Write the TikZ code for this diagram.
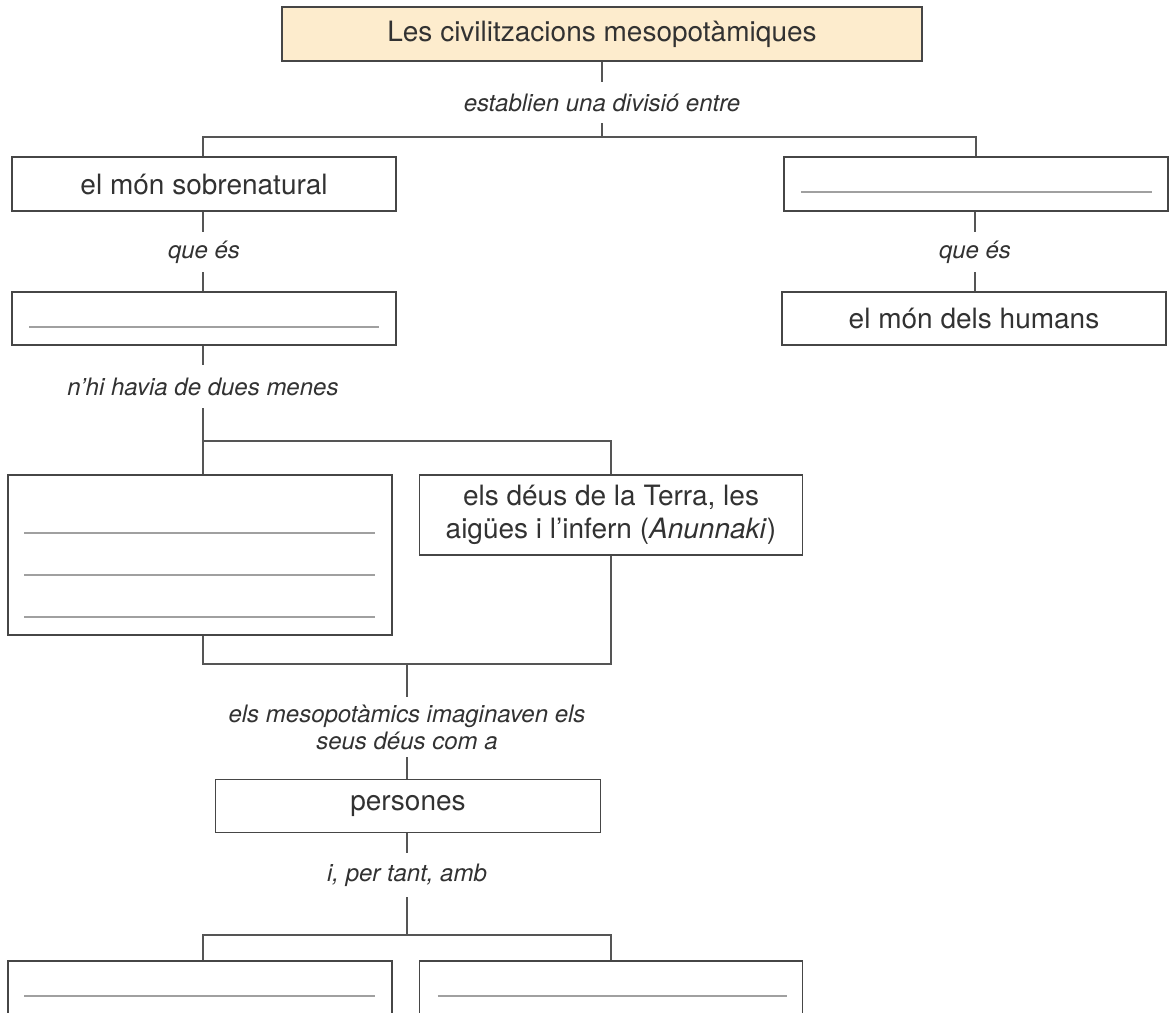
\documentclass[tikz,border=0pt]{standalone}
\usepackage{fontspec}
\setmainfont{TeX Gyre Heros}
\definecolor{titlefill}{RGB}{253,236,205}
\definecolor{boxline}{RGB}{70,70,70}
\definecolor{conline}{RGB}{85,85,85}
\definecolor{blankline}{RGB}{160,160,160}
\definecolor{txt}{RGB}{50,50,50}
\tikzset{
  box/.style={draw=boxline, line width=1.4pt, rectangle, inner sep=0pt, text=txt,
              minimum width=384pt, font=\fontsize{28}{33}\selectfont, align=center},
  lab/.style={inner sep=0pt, text=txt, font=\fontsize{24}{27}\selectfont\itshape, align=center},
  con/.style={draw=conline, line width=1.3pt},
  blank/.style={draw=blankline, line width=1.5pt}
}
\begin{document}
\begin{tikzpicture}[x=1pt,y=-1pt]
\clip (0,0) rectangle (1169,1012);
\fill[white] (0,0) rectangle (1169,1012);

% boxes
\node[box, fill=titlefill, minimum width=640pt, minimum height=54pt] (title) at (602,34) {Les civilitzacions mesopotàmiques};
\node[box, minimum height=54pt] (sobre) at (204,184) {el món sobrenatural};
\node[box, minimum height=54pt] (blankR) at (976,184) {};
\node[box, minimum height=53pt] (blankL) at (204,318.5) {};
\node[box, minimum height=53pt] (humans) at (974,318.5) {el món dels humans};
\node[box, minimum height=160pt] (three) at (200,555) {};
\node[box, minimum width=383pt, minimum height=80pt] (anun) at (611,515) {els déus de la Terra, les\\aigües i l’infern (\textit{Anunnaki})};
\node[box, minimum width=385pt, minimum height=53pt] (pers) at (408,806) {persones};
\node[box, minimum height=100pt] (bl) at (200,1011) {};
\node[box, minimum width=383pt, minimum height=100pt] (br) at (611,1011) {};

% labels
\node[lab, minimum height=41pt] (l1) at (602,102.5) {establien una divisió entre};
\node[lab, minimum height=40pt] (l2) at (204,252) {que és};
\node[lab, minimum height=40pt] (l2r) at (975,252) {que és};
\node[lab, minimum height=43pt] (l3) at (203,386.5) {n’hi havia de dues menes};
\node[lab, minimum height=60pt] (l4) at (407,727) {els mesopotàmics imaginaven els\\seus déus com a};
\node[lab, minimum height=44pt] (l5) at (407,875) {i, per tant, amb};

% junctions
\coordinate (j1) at (602,137);
\coordinate (j3) at (203,441);
\coordinate (j4) at (407,664);
\coordinate (j5) at (407,935);

% blank writing lines
\draw[blank] ([xshift=18pt,yshift=-8pt]blankR.west) -- ([xshift=-17pt,yshift=-8pt]blankR.east);
\draw[blank] ([xshift=18pt,yshift=-8.5pt]blankL.west) -- ([xshift=-18pt,yshift=-8.5pt]blankL.east);
\draw[blank] ([xshift=17pt,yshift=22pt]three.west) -- ([xshift=-18pt,yshift=22pt]three.east);
\draw[blank] ([xshift=17pt,yshift=-20pt]three.west) -- ([xshift=-18pt,yshift=-20pt]three.east);
\draw[blank] ([xshift=17pt,yshift=-62pt]three.west) -- ([xshift=-18pt,yshift=-62pt]three.east);
\draw[blank] ([xshift=17pt,yshift=15pt]bl.west) -- ([xshift=-18pt,yshift=15pt]bl.east);
\draw[blank] ([xshift=19pt,yshift=15pt]br.west) -- ([xshift=-16pt,yshift=15pt]br.east);

% connectors
\draw[con] (title.south) -- (l1.north);
\draw[con] (l1.south) -- (j1);
\draw[con] (sobre.north -| j3) |- (j1) -| (blankR.north);
\draw[con] (sobre.south -| j3) -- (l2.north -| j3);
\draw[con] (l2.south -| j3) -- (blankL.north -| j3);
\draw[con] (blankR.south -| l2r) -- (l2r.north);
\draw[con] (l2r.south) -- (humans.north -| l2r);
\draw[con] (blankL.south -| l3) -- (l3.north);
\draw[con] (l3.south) -- (three.north -| l3);
\draw[con] (j3) -| (anun.north);
\draw[con] (three.south -| l3) |- (j4) -| (anun.south);
\draw[con] (j4) -- (l4.north);
\draw[con] (l4.south) -- (pers.north -| l4);
\draw[con] (pers.south -| l5) -- (l5.north);
\draw[con] (l5.south) -- (j5);
\draw[con] (bl.north -| l3) |- (j5) -| (br.north);
\end{tikzpicture}
\end{document}
